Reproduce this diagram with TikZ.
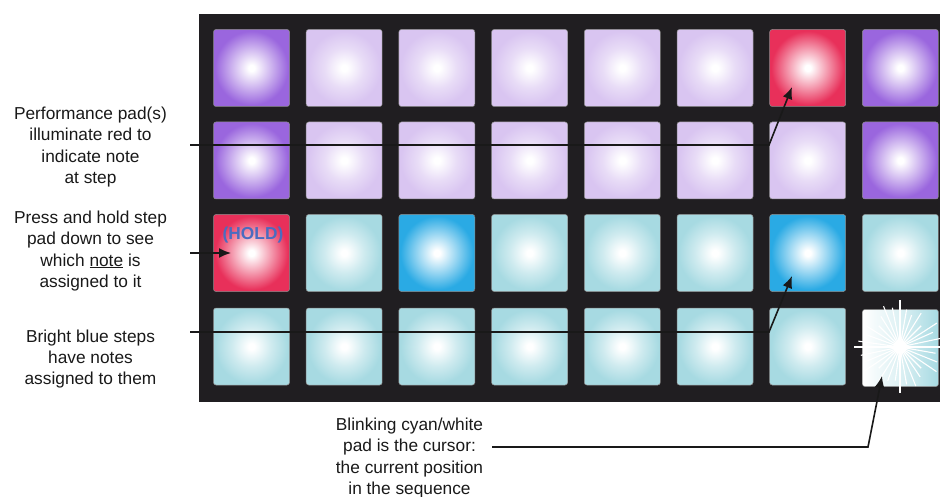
\documentclass[tikz,border=0pt]{standalone}
\usepackage{fontspec}
\setmainfont{Liberation Sans}
\usetikzlibrary{arrows.meta}
\definecolor{panel}{HTML}{201E21}
\definecolor{cpurple}{HTML}{9A66DE}
\definecolor{clav}{HTML}{D9C5F1}
\definecolor{cred}{HTML}{E8305A}
\definecolor{ccyan}{HTML}{A7DAE2}
\definecolor{cblue}{HTML}{2AAAE4}
\definecolor{holdblue}{HTML}{4A6CC0}
\pgfdeclareradialshading{gpurple}{\pgfpoint{0bp}{0bp}}{color(0bp)=(white);color(2bp)=(white);color(12bp)=(cpurple!45!white);color(24bp)=(cpurple);color(50bp)=(cpurple)}
\pgfdeclareradialshading{glav}{\pgfpoint{0bp}{0bp}}{color(0bp)=(white);color(2bp)=(white);color(13bp)=(clav!60!white);color(24bp)=(clav);color(50bp)=(clav)}
\pgfdeclareradialshading{gred}{\pgfpoint{0bp}{0bp}}{color(0bp)=(white);color(2bp)=(white);color(12bp)=(cred!45!white);color(24bp)=(cred);color(50bp)=(cred)}
\pgfdeclareradialshading{gcyan}{\pgfpoint{0bp}{0bp}}{color(0bp)=(white);color(2bp)=(white);color(13bp)=(ccyan!55!white);color(24bp)=(ccyan);color(50bp)=(ccyan)}
\pgfdeclareradialshading{gblue}{\pgfpoint{0bp}{0bp}}{color(0bp)=(white);color(2bp)=(white);color(12bp)=(cblue!45!white);color(24bp)=(cblue);color(50bp)=(cblue)}
\tikzset{
  padbox/.style={minimum width=76pt, minimum height=77pt, inner sep=0pt, rounded corners=2.5pt, draw=black!45, line width=0.5pt},
  lbl/.style={align=center, font=\fontsize{17.3}{21.3}\selectfont, text=black!90},
  conn/.style={line width=1.6pt, draw=black!90},
  tipline/.style={conn, -{Latex[length=12pt,width=10pt]}},
  ray/.style={white, line width=1.1pt},
}
\begin{document}
\begin{tikzpicture}[x=1pt,y=-1pt]
\useasboundingbox (0,0) rectangle (940,497);
\fill[panel] (199,14) rectangle (940,402);
\foreach \c/\s in {1/gpurple,2/glav,3/glav,4/glav,5/glav,6/glav,7/gred,8/gpurple}
  \node[padbox, shading=\s] (p-1-\c) at ({251.5+(\c-1)*92.7},68) {};
\foreach \c/\s in {1/gpurple,2/glav,3/glav,4/glav,5/glav,6/glav,7/glav,8/gpurple}
  \node[padbox, shading=\s] (p-2-\c) at ({251.5+(\c-1)*92.7},160.5) {};
\foreach \c/\s in {1/gred,2/gcyan,3/gblue,4/gcyan,5/gcyan,6/gcyan,7/gblue,8/gcyan}
  \node[padbox, shading=\s] (p-3-\c) at ({251.5+(\c-1)*92.7},253) {};
\foreach \c/\s in {1/gcyan,2/gcyan,3/gcyan,4/gcyan,5/gcyan,6/gcyan,7/gcyan}
  \node[padbox, shading=\s] (p-4-\c) at ({251.5+(\c-1)*92.7},346.5) {};
% cursor pad
\node[padbox, left color=white, right color=ccyan, middle color=ccyan!40!white] (p-4-8) at (900.4,348) {};
\foreach \a/\l in {0/50,12/42,24/36,33/44,45/30,58/40,70/34,80/38,90/47,101/40,112/44,122/36,135/30,148/40,160/36,172/42,180/46,192/40,203/38,214/44,225/30,238/40,250/36,262/34,270/46,280/38,292/42,304/36,315/30,326/44,338/40,350/36}
  \draw[ray] (900,347) -- ++({\l*cos(\a)},{-\l*sin(\a)});
\fill[white] (900,347) circle (7pt);
% HOLD text
\node[font=\fontsize{17.3}{20}\selectfont\bfseries, text=holdblue] (hold) at (253,235) {(HOLD)};
% labels
\node[lbl] (l1) at (90.5,147) {Performance pad(s)\\illuminate red to\\indicate note\\at step};
\node[lbl] (l2) at (90.5,251) {Press and hold step\\pad down to see\\which \underline{note} is\\assigned to it};
\node[lbl] (l3) at (90.5,359) {Bright blue steps\\have notes\\assigned to them};
\node[lbl] (l4) at (409.5,458) {Blinking cyan/white\\pad is the cursor:\\the current position\\in the sequence};
% connector coordinates
\coordinate (s1) at (190,145);
\coordinate (b1) at (769,145);
\coordinate (t1) at (792,87);
\coordinate (s2) at (190,253);
\coordinate (t2) at (231,253);
\coordinate (s3) at (190,332);
\coordinate (b3) at (769,332);
\coordinate (t3) at (792,276);
\coordinate (s4) at (492,447);
\coordinate (b4) at (868,447);
\coordinate (t4) at (882,376);
\draw[tipline] (s1) -- (b1) -- (t1);
\draw[tipline] (s2) -- (t2);
\draw[tipline] (s3) -- (b3) -- (t3);
\draw[tipline] (s4) -- (b4) -- (t4);
\end{tikzpicture}
\end{document}
